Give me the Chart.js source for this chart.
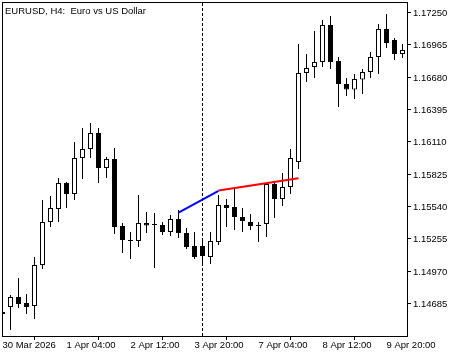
<!DOCTYPE html>
<html><head><meta charset="utf-8">
<script src="https://cdn.jsdelivr.net/npm/chart.js"></script>
<style>html,body{margin:0;padding:0;background:#fff;overflow:hidden}#wrap{width:460px;height:357px}</style>
</head><body><div id="wrap"><canvas id="c" width="460" height="357"></canvas></div>
<script>
const chartTitle = 'EURUSD, H4:  Euro vs US Dollar';
const barTimes = [
 '30 Mar 20:00',
 '31 Mar 00:00','31 Mar 04:00','31 Mar 08:00','31 Mar 12:00','31 Mar 16:00','31 Mar 20:00',
 '1 Apr 00:00','1 Apr 04:00','1 Apr 08:00','1 Apr 12:00','1 Apr 16:00','1 Apr 20:00',
 '2 Apr 00:00','2 Apr 04:00','2 Apr 08:00','2 Apr 12:00','2 Apr 16:00','2 Apr 20:00',
 '3 Apr 00:00','3 Apr 04:00','3 Apr 08:00','3 Apr 12:00','3 Apr 16:00','3 Apr 20:00',
 '6 Apr 00:00','6 Apr 04:00','6 Apr 08:00','6 Apr 12:00','6 Apr 16:00','6 Apr 20:00',
 '7 Apr 00:00','7 Apr 04:00','7 Apr 08:00','7 Apr 12:00','7 Apr 16:00','7 Apr 20:00',
 '8 Apr 00:00','8 Apr 04:00','8 Apr 08:00','8 Apr 12:00','8 Apr 16:00','8 Apr 20:00',
 '9 Apr 00:00','9 Apr 04:00','9 Apr 08:00','9 Apr 12:00','9 Apr 16:00','9 Apr 20:00',
 '10 Apr 00:00','10 Apr 04:00'
];
const opens = [1.14610,1.14654,1.14742,1.14689,1.14663,1.15024,1.15403,1.15518,1.15747,1.15650,
 1.15967,1.16047,1.16188,1.15879,1.15959,1.15368,1.15245,1.15236,1.15395,1.15386,
 1.15377,1.15315,1.15430,1.15306,1.15192,1.15192,1.15095,1.15227,1.15553,1.15536,
 1.15447,1.15403,1.15377,1.15386,1.15738,1.15606,1.15712,1.15932,1.16717,1.16770,
 1.16814,1.17140,1.16822,1.16620,1.16571,1.16660,1.16726,1.16858,1.17105,1.17008,1.16884];
const highs = [1.14645,1.14760,1.14910,1.14769,1.15095,1.15597,1.15633,1.15791,1.15756,1.16109,
 1.16232,1.16276,1.16232,1.15976,1.16056,1.15395,1.15315,1.15641,1.15491,1.15483,
 1.15403,1.15465,1.15509,1.15350,1.15315,1.15262,1.15315,1.15641,1.15606,1.15703,
 1.15527,1.15474,1.15403,1.15747,1.15756,1.15835,1.16047,1.16972,1.16884,1.17087,
 1.17184,1.17219,1.16858,1.16673,1.16708,1.16752,1.16902,1.17149,1.17237,1.17025,1.16972];
const lows = [1.14548,1.14451,1.14645,1.14592,1.14548,1.14989,1.15359,1.15403,1.15527,1.15597,
 1.15782,1.15967,1.15747,1.15791,1.15298,1.15130,1.15077,1.15183,1.15306,1.14998,
 1.15289,1.15280,1.15262,1.15165,1.15077,1.15042,1.15033,1.15201,1.15359,1.15333,
 1.15315,1.15333,1.15227,1.15271,1.15439,1.15544,1.15650,1.15871,1.16637,1.16673,
 1.16770,1.16752,1.16417,1.16514,1.16488,1.16532,1.16673,1.16708,1.16937,1.16831,1.16849];
const closes = [1.14592,1.14742,1.14681,1.14654,1.15024,1.15403,1.15527,1.15747,1.15650,1.15967,
 1.16047,1.16188,1.15879,1.15959,1.15359,1.15245,1.15236,1.15395,1.15372,1.15377,
 1.15315,1.15430,1.15306,1.15183,1.15095,1.15104,1.15236,1.15553,1.15527,1.15447,
 1.15412,1.15368,1.15368,1.15738,1.15606,1.15712,1.15967,1.16717,1.16761,1.16814,
 1.17140,1.16814,1.16620,1.16571,1.16664,1.16726,1.16858,1.17105,1.16981,1.16884,1.16919];
const yTickValues = [1.14685,1.14970,1.15255,1.15540,1.15825,1.16110,1.16395,1.16680,1.16965,1.17250];
const xTickIndex = [0,8,16,24,32,40,48];
const xTickLabels = ['30 Mar 2026','1 Apr 04:00','2 Apr 12:00','3 Apr 20:00','7 Apr 04:00','8 Apr 12:00','9 Apr 20:00'];
const blueX = [22,27], blueY = [1.15487,1.15677];
const redX = [27,37], redY = [1.15681,1.15790];
const separatorIndex = 25;

const FONT = {family:'"Liberation Sans", Arial, sans-serif', size:9.5};
const idx = barTimes.map((t,i)=>i);
const wickData = idx.map(i=>({x:i, y:[lows[i], highs[i]]}));
const bodyData = idx.map(i=>({x:i, y:[opens[i], closes[i]]}));
const bodyColors = idx.map(i=> closes[i] >= opens[i] ? '#ffffff' : '#000000');

const framePlugin = {
  id:'frame',
  beforeDatasetsDraw(chart){
    const {ctx, chartArea, scales:{x}} = chart;
    const px = Math.round(x.getPixelForValue(separatorIndex) - 0.5) + 0.5;
    ctx.save();
    ctx.beginPath(); ctx.rect(chartArea.left, chartArea.top, chartArea.right-chartArea.left, chartArea.bottom-chartArea.top); ctx.clip();
    ctx.strokeStyle = '#000'; ctx.lineWidth = 1; ctx.setLineDash([3,2]);
    ctx.beginPath(); ctx.moveTo(px, chartArea.top); ctx.lineTo(px, chartArea.bottom); ctx.stroke();
    ctx.restore();
  },
  afterDraw(chart){
    const {ctx, chartArea} = chart;
    ctx.save();
    ctx.strokeStyle = '#000'; ctx.lineWidth = 1;
    ctx.strokeRect(chartArea.left - 0.5, chartArea.top - 0.5, chartArea.right - chartArea.left + 1, chartArea.bottom - chartArea.top + 1);
    ctx.fillStyle = '#000';
    ctx.font = FONT.size + 'px ' + FONT.family;
    ctx.textBaseline = 'alphabetic'; ctx.textAlign = 'left';
    ctx.fillText(chartTitle, chartArea.left + 2, chartArea.top + 11);
    ctx.restore();
  }
};

new Chart(document.getElementById('c'), {
  type:'bar',
  data:{ datasets:[
    {type:'line', data: blueX.map((v,i)=>({x:v,y:blueY[i]})), borderColor:'#0000ff', borderWidth:2, pointRadius:0, fill:false, order:0, clip:0},
    {type:'line', data: redX.map((v,i)=>({x:v,y:redY[i]})), borderColor:'#ff0000', borderWidth:2, pointRadius:0, fill:false, order:0, clip:0},
    {data: bodyData, backgroundColor: bodyColors, borderColor:'#000', borderWidth:1, borderSkipped:false, barThickness:5, grouped:false, inflateAmount:0, order:1, clip:0},
    {data: wickData, backgroundColor:'#000', borderWidth:0, barThickness:1, grouped:false, inflateAmount:0, order:2, clip:0}
  ]},
  options:{
    responsive:false, devicePixelRatio:1, animation:false,
    layout:{padding:{left:3, top:3, right:0, bottom:0}},
    plugins:{legend:{display:false}, tooltip:{enabled:false}, title:{display:false}},
    scales:{
      x:{type:'linear', position:'bottom', min:0.0625, max:50.5625, offset:false,
        grid:{drawOnChartArea:false, drawTicks:true, tickLength:4, color:'#000', tickColor:'#000'},
        border:{display:false},
        ticks:{autoSkip:false, maxRotation:0, minRotation:0, align:'start', padding:0, color:'#000', font:FONT,
          callback:(v,i)=>xTickLabels[i]},
        afterBuildTicks:(s)=>{ s.ticks = xTickIndex.map(v=>({value:v})); },
        afterFit:(s)=>{ s.height = 21; s.paddingLeft = 0; s.paddingRight = 0; }
      },
      y:{type:'linear', position:'right', min:1.14398542, max:1.17333737,
        grid:{drawOnChartArea:false, drawTicks:true, tickLength:4, color:'#000', tickColor:'#000'},
        border:{display:false},
        ticks:{padding:2, color:'#000', font:FONT, labelOffset:1, callback:(v)=>Number(v).toFixed(5)},
        afterBuildTicks:(s)=>{ s.ticks = yTickValues.map(v=>({value:v})); },
        afterFit:(s)=>{ s.width = 53; s.paddingTop = 0; s.paddingBottom = 0; }
      }
    }
  },
  plugins:[framePlugin]
});
</script></body></html>
